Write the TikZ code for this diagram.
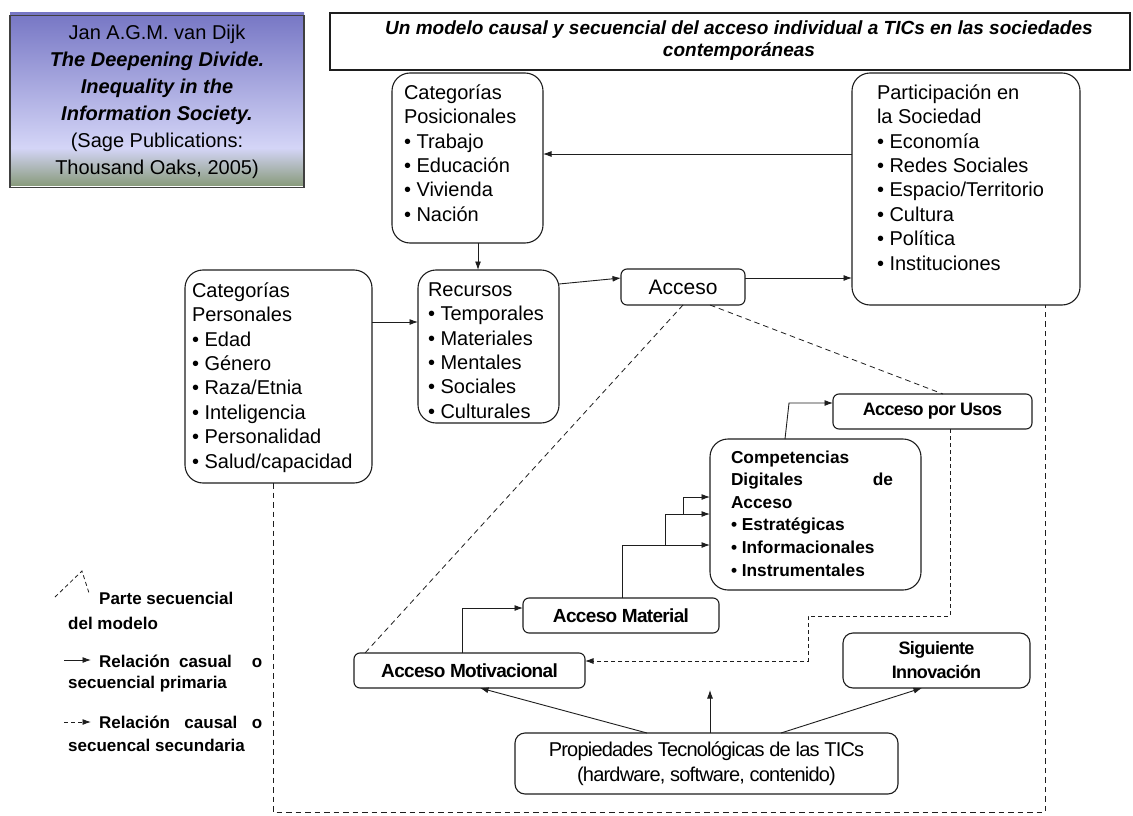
\documentclass[tikz,border=0pt]{standalone}
\usepackage{fontspec}
\setmainfont{Liberation Sans}
\newfontfamily\tightf[LetterSpace=-3.5]{Liberation Sans}
\newfontfamily\tighterf[LetterSpace=-4]{Liberation Sans}
\usetikzlibrary{arrows.meta}
\definecolor{cA}{RGB}{118,118,196}
\definecolor{cB}{RGB}{212,213,247}
\definecolor{cC}{RGB}{138,156,126}
\definecolor{ln}{RGB}{30,30,30}
\begin{document}
\begin{tikzpicture}[x=1pt,y=-1pt,
  box/.style={draw=ln, line width=1.1pt, rounded corners=18pt, inner sep=0pt, outer sep=0pt},
  sbox/.style={draw=ln, line width=1.1pt, rounded corners=6pt, inner sep=0pt, outer sep=0pt, align=center},
  txt/.style={anchor=north west, inner sep=0pt, outer sep=0pt, align=left},
  listf/.style={font=\fontsize{20}{24.4}\selectfont},
  legf/.style={anchor=west, inner sep=0pt, font=\fontsize{17}{20}\selectfont\bfseries},
  arr/.style={-{Latex[length=8.5pt,width=6pt]}, line width=0.9pt, draw=ln},
  seq/.style={dash pattern=on 5.5pt off 4pt, line width=0.8pt, draw=ln},
  darr/.style={-{Latex[length=8.5pt,width=6pt]}, dash pattern=on 4pt off 3pt, line width=0.9pt, draw=ln},
]
\useasboundingbox (0,0) rectangle (1133,816);
\fill[white] (0,0) rectangle (1133,816);

% citation box
\shade[top color=cA, bottom color=cB] (10,13) rectangle (304,148);
\shade[top color=cB, bottom color=cC] (10,148) rectangle (304,185);
\node[draw=black!75, line width=1.2pt, minimum width=294pt, minimum height=172pt, inner sep=0pt, align=center,
  font=\fontsize{20}{27}\selectfont] (cite) at (157,101.5) {Jan A.G.M. van Dijk\\
  \textbf{\textit{The Deepening Divide.}}\\
  \textbf{\textit{Inequality in the}}\\
  \textbf{\textit{Information Society.}}\\
  (Sage Publications:\\
  Thousand Oaks, 2005)};

% title
\node[draw=ln, line width=1.2pt, minimum width=800pt, minimum height=57pt, inner sep=0pt] (titlebox) at (730,41.5) {};
\node[align=center, inner sep=0pt, font=\fontsize{19}{22}\selectfont\bfseries\itshape] (title) at (739,41)
  {Un modelo causal y secuencial del acceso individual a TICs en las sociedades\\contemporáneas};

% big boxes
\node[box, minimum width=151pt, minimum height=170pt] (posic) at (467.5,158) {};
\node[txt, listf] (posicT) at (404,84.5) {Categorías\\Posicionales\\• Trabajo\\• Educación\\• Vivienda\\• Nación};

\node[box, minimum width=228pt, minimum height=232pt] (part) at (966,189) {};
\node[txt, listf] (partT) at (877,84.5) {Participación en\\la Sociedad\\• Economía\\• Redes Sociales\\• Espacio/Territorio\\• Cultura\\• Política\\• Instituciones};

\node[box, minimum width=187pt, minimum height=213pt] (pers) at (278.5,376.5) {};
\node[txt, listf] (persT) at (192,282.5) {Categorías\\Personales\\• Edad\\• Género\\• Raza/Etnia\\• Inteligencia\\• Personalidad\\• Salud/capacidad};

\node[box, minimum width=141pt, minimum height=153pt] (rec) at (488.5,346.5) {};
\node[txt, listf] (recT) at (428,282.5) {Recursos\\• Temporales\\• Materiales\\• Mentales\\• Sociales\\• Culturales};

\node[sbox, minimum width=124pt, minimum height=36pt, font=\fontsize{21}{24}\selectfont] (acc) at (683,287) {Acceso};

\node[sbox, minimum width=199pt, minimum height=35pt, font=\fontsize{18}{20}\selectfont\tightf\bfseries] (usos) at (932.5,411.5) {Acceso por Usos};

\node[box, minimum width=211pt, minimum height=151pt] (comp) at (815.5,514.5) {};
\node[txt, font=\fontsize{17.3}{22.6}\selectfont\bfseries] (compT) at (731,450.5) {Competencias\\\makebox[162pt][l]{Digitales\hfill de}\\Acceso\\• Estratégicas\\• Informacionales\\• Instrumentales};

\node[sbox, minimum width=196pt, minimum height=35pt, font=\fontsize{19}{20}\selectfont\tightf\bfseries] (mat) at (621,615.5) {Acceso Material};
\node[sbox, minimum width=231pt, minimum height=35pt, font=\fontsize{19}{20}\selectfont\tightf\bfseries] (motiv) at (469.5,670.5) {Acceso Motivacional};
\node[sbox, rounded corners=10pt, minimum width=187pt, minimum height=55pt, font=\fontsize{18}{24}\selectfont\tightf\bfseries] (sig) at (936.5,660.5) {Siguiente\\Innovación};
\node[sbox, rounded corners=10pt, minimum width=383pt, minimum height=61pt, font=\fontsize{20}{25}\selectfont\tighterf] (prop) at (706.5,763.5) {Propiedades Tecnológicas de las TICs\\(hardware, software, contenido)};

% helper coordinates
\coordinate (y154) at (0,154);
\coordinate (x478) at (478,0);
\coordinate (y322) at (0,322);
\coordinate (y284) at (0,284);
\coordinate (y278) at (0,278);
\coordinate (x785) at (785,0);
\coordinate (y403) at (0,403);
\coordinate (x622) at (622,0);
\coordinate (y545) at (0,545);
\coordinate (y514) at (0,514);
\coordinate (y497) at (0,497);
\coordinate (x462) at (462,0);
\coordinate (y608) at (0,608);
\coordinate (x950) at (950,0);
\coordinate (y661) at (0,661);
\coordinate (x273) at (273,0);
\coordinate (x1045) at (1045,0);
\coordinate (bl) at (273,812);
\coordinate (br) at (1045,812);
\coordinate (c1) at (789,403);
\coordinate (m1) at (622,545);
\coordinate (b1) at (665,545);
\coordinate (b1t) at (665,514);
\coordinate (b2) at (683,514);
\coordinate (b2t) at (683,497);
\coordinate (v1) at (462,608);
\coordinate (d1) at (950,616);
\coordinate (d2) at (808,616);
\coordinate (d3) at (808,661);
\coordinate (up) at (710,690);
\coordinate (accL) at (683,305);
\coordinate (accR) at (710,305);
\coordinate (motTL) at (365,653);
\coordinate (usosT) at (943,394);
\coordinate (p1) at (647,733);
\coordinate (p2) at (710,733);
\coordinate (p3) at (781,733);
\coordinate (motB) at (480,688);
\coordinate (sigB) at (922,688);

% connectors
\draw[arr] (part.west |- y154) -- (posic.east |- y154);
\draw[arr] (posic.south -| x478) -- (rec.north -| x478);
\draw[arr] (pers.east |- y322) -- (rec.west |- y322);
\draw[arr] (rec.east |- y284) -- (acc.west |- y278);
\draw[arr] (acc.east |- y278) -- (part.west |- y278);
\draw[arr] (comp.north -| x785) -- (c1) -- (usos.west |- y403);
\draw[arr] (mat.north -| x622) -- (m1) -- (comp.west |- y545);
\draw[arr] (b1) -- (b1t) -- (comp.west |- y514);
\draw[arr] (b2) -- (b2t) -- (comp.west |- y497);
\draw[arr] (motiv.north -| x462) -- (v1) -- (mat.west |- y608);
\draw[darr] (usos.south -| x950) -- (d1) -- (d2) -- (d3) -- (motiv.east |- y661);
\draw[arr] (p1) -- (motB);
\draw[arr] (p2) -- (up);
\draw[arr] (p3) -- (sigB);

% sequential dashed lines
\draw[seq] (accL) -- (motTL);
\draw[seq] (accR) -- (usosT);
\draw[seq] (pers.south -| x273) -- (bl) -- (br) -- (part.south -| x1045);

% legend
\coordinate (lg1) at (55,597);
\coordinate (lg2) at (82,571);
\coordinate (lg3) at (89,593);
\draw[seq, dash pattern=on 4pt off 3pt] (lg1) -- (lg2) -- (lg3);
\node[legf] (l1) at (99,598) {Parte secuencial};
\node[legf] (l1b) at (68,623) {del modelo};
\coordinate (la1) at (64,660);
\coordinate (la2) at (91,660);
\draw[arr] (la1) -- (la2);
\node[legf] (l2) at (99,661) {\makebox[163pt][l]{Relación\hspace{9pt}casual\hfill o}};
\node[legf] (l2b) at (68,684) {secuencial primaria};
\coordinate (lb1) at (64,722);
\coordinate (lb2) at (91,722);
\draw[darr] (lb1) -- (lb2);
\node[legf] (l3) at (99,722) {\makebox[163pt][l]{Relación\hfill causal\hfill o}};
\node[legf] (l3b) at (68,745) {secuencal secundaria};
\end{tikzpicture}
\end{document}
